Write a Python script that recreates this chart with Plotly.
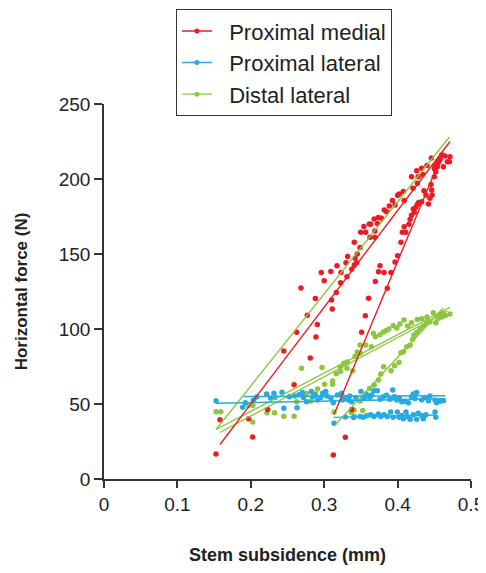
import plotly.graph_objects as go

RED = "#ec1c24"
BLUE = "#27aae1"
GREEN = "#8dc63f"

# ---- Proximal medial (red) ----
pm_a_x = [0.1526, 0.158, 0.197, 0.2026, 0.223, 0.245, 0.259, 0.2625, 0.2684, 0.277, 0.281, 0.288,
          0.2888, 0.2906, 0.296, 0.300, 0.309, 0.310, 0.311, 0.3165, 0.3174, 0.3224, 0.3229, 0.3297,
          0.331, 0.332, 0.3374, 0.341, 0.3443, 0.342, 0.341, 0.345, 0.3488, 0.3497, 0.3565, 0.354,
          0.3615, 0.3624, 0.369, 0.3633, 0.368, 0.3738, 0.378, 0.369, 0.3724, 0.3818, 0.385, 0.3887,
          0.393, 0.3965, 0.400, 0.4023, 0.4078, 0.409, 0.419, 0.421, 0.426, 0.428, 0.427, 0.4328,
          0.434, 0.440, 0.446, 0.450, 0.455, 0.460]
pm_a_y = [16.7, 39.5, 40.2, 28, 46.4, 85.3, 62.9, 97.8, 127.3, 109.1, 80.7, 120.4,
          94.7, 103, 137.6, 132.2, 138.4, 119.3, 113.3, 124.4, 142.2, 130.9, 137.6, 144.2,
          134.9, 148.4, 139.8, 142.7, 144.2, 147.1, 157.8, 150, 154.4, 164.5, 164.5, 168.4,
          170, 161.1, 161.1, 169.8, 173.3, 174.4, 173.8, 165.3, 170.4, 179.3, 178.2, 182,
          185.6, 182.7, 189.1, 190, 191.6, 185.6, 201.5, 193.8, 205.5, 201.5, 197.1, 207.1,
          203.1, 209, 214, 207, 212, 216]
pm_b_x = [0.3124, 0.3288, 0.3374, 0.351, 0.356, 0.3605, 0.3697, 0.374, 0.376, 0.3815, 0.386, 0.391,
          0.3965, 0.400, 0.4046, 0.4064, 0.411, 0.409, 0.4155, 0.417, 0.419, 0.4228, 0.4214, 0.425,
          0.427, 0.4287, 0.4328, 0.436, 0.4387, 0.442, 0.444, 0.447, 0.4464, 0.4455, 0.450, 0.452,
          0.454, 0.451, 0.456, 0.458, 0.4546, 0.4623, 0.4646, 0.4678, 0.4714, 0.4705]
pm_b_y = [16, 27.8, 46.4, 97.8, 108.9, 120.5, 131.7, 138.2, 142.2, 137.6, 127.1, 137.6,
          144.7, 148.9, 157.8, 164.5, 164.5, 168.2, 169.8, 173.1, 175.8, 177.8, 180, 181.1,
          183.1, 184.4, 184.9, 192.2, 189.3, 183.3, 187.1, 189.3, 192.7, 196.4, 201.5, 204.9,
          208.2, 208.7, 211.5, 213.1, 210.4, 208.2, 215.3, 211.5, 214.9, 211.5]

# ---- Proximal lateral (blue) ----
pl_a_x = [0.1526, 0.189, 0.1926, 0.2035, 0.208, 0.2216, 0.227, 0.2316, 0.233, 0.2425, 0.245, 0.2525,
          0.260, 0.263, 0.2657, 0.2702, 0.2716, 0.276, 0.2825, 0.2843, 0.288, 0.291, 0.2952, 0.298,
          0.302, 0.3038, 0.3093, 0.3124, 0.318, 0.3238, 0.3247, 0.329, 0.333, 0.335, 0.3374, 0.343,
          0.350, 0.3547, 0.3615, 0.357, 0.3624, 0.368, 0.3724, 0.3647, 0.376, 0.3806, 0.385, 0.3896,
          0.3933, 0.3955, 0.3988, 0.4023, 0.4055, 0.410, 0.4146, 0.419, 0.4214, 0.426, 0.4237, 0.4328,
          0.4373, 0.4419, 0.444, 0.451, 0.453, 0.4578, 0.4623]
pl_a_y = [52.2, 47.8, 50.9, 52.5, 54.6, 56.7, 54, 57.1, 54.4, 57.8, 47.1, 54.9,
          55.3, 47.5, 56.2, 57.6, 54.4, 51.5, 58.4, 54.9, 56, 52.7, 54.4, 57.1,
          58.4, 55.3, 53.8, 50.9, 56, 57.1, 52.7, 54.4, 52.7, 55.3, 51.5, 54.4,
          58.4, 53.6, 55.3, 56.7, 54.4, 58.9, 58.9, 56, 53.1, 54.9, 55.8, 53.1,
          59.3, 54.9, 52.7, 54, 51.5, 51.8, 50.9, 54.9, 56.7, 57.6, 53.6, 52.7,
          54.4, 52.2, 55.3, 52.7, 50.9, 51.8, 52.2]
pl_b_x = [0.3134, 0.3288, 0.340, 0.349, 0.3533, 0.358, 0.3633, 0.368, 0.3738, 0.377, 0.3815, 0.386,
          0.3906, 0.394, 0.3996, 0.402, 0.4055, 0.4078, 0.4114, 0.413, 0.417, 0.4214, 0.426, 0.428,
          0.4328, 0.435, 0.4387, 0.451, 0.452]
pl_b_y = [37.1, 41.3, 41.0, 41.6, 41.1, 42.2, 42.9, 41.6, 43.3, 41.6, 42.9, 41.6,
          44.7, 41.1, 44.7, 41.1, 42.4, 40.2, 44.7, 41.6, 39.8, 42.9, 39.8, 43.8,
          42.4, 40.2, 42.9, 44.7, 41.1]

# ---- Distal lateral (green) ----
dl_a_x = [0.1526, 0.159, 0.197, 0.203, 0.2026, 0.222, 0.2324, 0.245, 0.259, 0.2625, 0.269, 0.276,
          0.282, 0.288, 0.291, 0.297, 0.3006, 0.3115, 0.3115, 0.3165, 0.322, 0.3225, 0.327, 0.3315,
          0.331, 0.339, 0.342, 0.345, 0.3488, 0.3565, 0.349, 0.3644, 0.367, 0.3696, 0.376, 0.3806,
          0.384, 0.388, 0.394, 0.3988, 0.403, 0.4087, 0.4137, 0.419, 0.4268, 0.433, 0.440, 0.4487,
          0.4568, 0.462, 0.4714]
dl_a_y = [44.9, 44.9, 49, 49, 38, 44.2, 44.2, 41.8, 41.8, 51.5, 73.8, 56.9,
          52, 56.7, 60, 74.4, 63.1, 65.3, 63.1, 70.2, 74.9, 71.6, 77.1, 78,
          73.8, 72.2, 81.6, 84.7, 89.3, 89.3, 83.8, 88.2, 97.1, 94.9, 96.2, 98,
          98.9, 100, 102.4, 100.7, 103.3, 106, 102, 104.2, 106.4, 106.9, 108, 110.9,
          109.3, 110.4, 110]
dl_b_x = [0.3134, 0.337, 0.3414, 0.3406, 0.3525, 0.349, 0.352, 0.362, 0.368, 0.374, 0.377, 0.381,
          0.391, 0.396, 0.402, 0.4046, 0.408, 0.4124, 0.417, 0.4205, 0.4223, 0.426, 0.4305, 0.435,
          0.4396, 0.444, 0.452, 0.455, 0.460, 0.465]
dl_b_y = [44.7, 44.4, 41.6, 46, 45.6, 52, 54.4, 60.4, 62.7, 66, 70, 74.9,
          72.2, 75.5, 77.8, 84.2, 84.9, 88.2, 89.1, 93.1, 96, 97.6, 99.8, 102,
          103.8, 104.9, 104.2, 107, 108, 109]

# ---- fitted lines: [x_start, x_end], [y_start, y_end] ----
red_fit_a_x, red_fit_a_y = [0.158, 0.4714], [23, 225]
red_fit_b_x, red_fit_b_y = [0.3134, 0.462], [43, 218]
blue_fit_a1_x, blue_fit_a1_y = [0.1526, 0.465], [50.5, 53.5]
blue_fit_a2_x, blue_fit_a2_y = [0.19, 0.465], [55, 55.5]
blue_fit_b_x, blue_fit_b_y = [0.3124, 0.451], [41.1, 42.7]
green_fit_s_x, green_fit_s_y = [0.1526, 0.4705], [33, 228]
green_fit_a1_x, green_fit_a1_y = [0.1526, 0.4714], [33, 114.4]
green_fit_a2_x, green_fit_a2_y = [0.158, 0.468], [31, 112]
green_fit_b_x, green_fit_b_y = [0.315, 0.462], [36, 114]

series_names = ["Proximal medial", "Proximal lateral", "Distal lateral"]
series_colors = [RED, BLUE, GREEN]

FONT = "Liberation Sans, Arial, sans-serif"

fig = go.Figure()

lines = [
    (green_fit_s_x, green_fit_s_y, GREEN),
    (green_fit_a1_x, green_fit_a1_y, GREEN),
    (green_fit_a2_x, green_fit_a2_y, GREEN),
    (green_fit_b_x, green_fit_b_y, GREEN),
    (blue_fit_a1_x, blue_fit_a1_y, BLUE),
    (blue_fit_a2_x, blue_fit_a2_y, BLUE),
    (blue_fit_b_x, blue_fit_b_y, BLUE),
    (red_fit_a_x, red_fit_a_y, RED),
    (red_fit_b_x, red_fit_b_y, RED),
]
points = [
    (dl_a_x, dl_a_y, GREEN), (dl_b_x, dl_b_y, GREEN),
    (pl_a_x, pl_a_y, BLUE), (pl_b_x, pl_b_y, BLUE),
    (pm_a_x, pm_a_y, RED), (pm_b_x, pm_b_y, RED),
]
for xs, ys, c in points:
    fig.add_trace(go.Scatter(x=xs, y=ys, mode="markers", showlegend=False,
                             marker=dict(color=c, size=5.5, line=dict(width=0))))
for xs, ys, c in lines:
    fig.add_trace(go.Scatter(x=xs, y=ys, mode="lines", showlegend=False,
                             line=dict(color=c, width=1.4)))

for name, c in zip(series_names, series_colors):
    fig.add_trace(go.Scatter(x=[None], y=[None], mode="lines+markers",
                             name="\u00a0\u00a0" + name,
                             line=dict(color=c, width=1.4), marker=dict(color=c, size=5)))

axis_common = dict(showline=True, linecolor="#333333", linewidth=1.5, ticks="outside",
                   tickcolor="#333333", tickwidth=1.5, showgrid=False, zeroline=False,
                   automargin=False,
                   tickfont=dict(family=FONT, size=19, color="#222222"))

# page body has an 8px default margin, so the figure is sized/offset to compensate
fig.update_layout(
    width=478, height=557,
    margin=dict(l=96, r=15, t=96, b=86, autoexpand=False),
    plot_bgcolor="white", paper_bgcolor="white",
    xaxis=dict(range=[0, 0.5], tickvals=[0, 0.1, 0.2, 0.3, 0.4, 0.5],
               ticktext=["0", "0.1", "0.2", "0.3", "0.4", "0.5"], ticklen=7,
               title=dict(text="<b>Stem subsidence (mm)</b>", standoff=39,
                          font=dict(family=FONT, size=18, color="#222222")),
               **axis_common),
    yaxis=dict(range=[0, 250], tickvals=[0, 50, 100, 150, 200, 250], ticklen=8,
               title=dict(text="<b>Horizontal force (N)</b>", standoff=27,
                          font=dict(family=FONT, size=17, color="#222222")),
               **axis_common),
    legend=dict(x=0.196, y=1.253, xanchor="left", yanchor="top",
                bgcolor="white", bordercolor="#333333", borderwidth=1,
                font=dict(family=FONT, size=22, color="#222222"),
                itemwidth=30, traceorder="normal"),
)

fig.write_html("out.html")
